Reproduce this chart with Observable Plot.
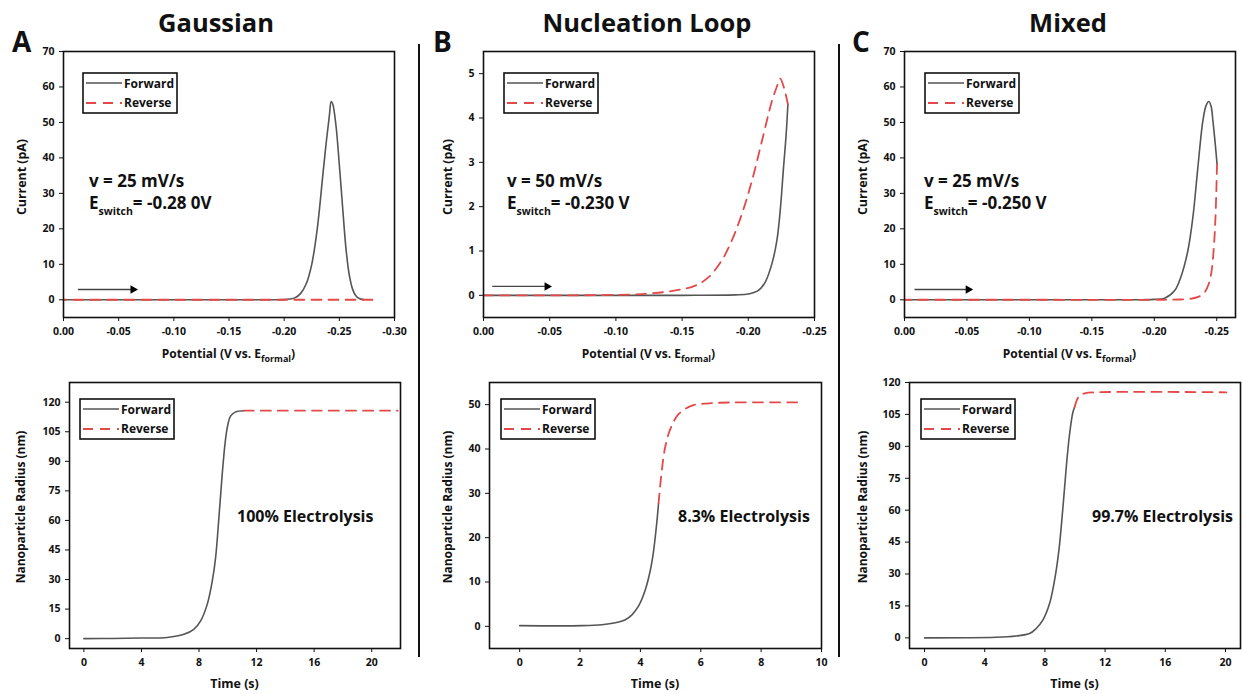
<!DOCTYPE html>
<html><head><meta charset="utf-8">
<script src="https://cdn.jsdelivr.net/npm/d3@7"></script>
<script src="https://cdn.jsdelivr.net/npm/@observablehq/plot@0.6"></script>
<style>
html,body{margin:0;padding:0;background:#fff;overflow:hidden;}
#fig{position:relative;width:1243px;height:694px;overflow:hidden;font-family:"Open Sans",sans-serif;font-weight:700;color:#111;background:#fff;}
.t{position:absolute;white-space:nowrap;line-height:1;}
.sep{position:absolute;background:#111;width:2px;}
</style></head>
<body><div id="fig"></div>
<script>
// ---------------- DATA ----------------
// Top row: cyclic voltammograms, [potential (V vs Eformal), current (pA)]
const gaussFwd = [[0,0],[-0.05,0],[-0.10,0],[-0.15,0],[-0.19,0],[-0.20,0.05],[-0.205,0.2],[-0.21,0.6],[-0.215,1.8],[-0.22,4.5],[-0.225,10],[-0.23,20],[-0.235,35],[-0.238,44],[-0.241,52],[-0.2426,55.9],[-0.244,55.2],[-0.247,49],[-0.25,38],[-0.253,26],[-0.256,14.5],[-0.259,7],[-0.262,3],[-0.265,1.1],[-0.268,0.35],[-0.272,0.05]];
const gaussRev = [[-0.28,0],[-0.20,0],[-0.10,0],[0,0]];
const nuclFwd = [[0,0],[-0.05,0],[-0.10,0],[-0.15,0],[-0.19,0.01],[-0.20,0.03],[-0.2077,0.11],[-0.2128,0.3],[-0.2178,0.71],[-0.2216,1.24],[-0.2241,1.91],[-0.2266,2.88],[-0.2286,3.63],[-0.2299,4.31]];
const nuclRev = [[-0.2299,4.31],[-0.227,4.68],[-0.2241,4.89],[-0.2215,4.7],[-0.2178,4.38],[-0.2103,3.48],[-0.2027,2.58],[-0.1952,1.84],[-0.1876,1.24],[-0.180,0.79],[-0.170,0.41],[-0.160,0.22],[-0.145,0.11],[-0.125,0.04],[-0.10,0.01],[-0.05,0],[0,0]];
const mixedFwd = [[0,0],[-0.05,0],[-0.10,0],[-0.15,0],[-0.19,0.02],[-0.20,0.1],[-0.2083,0.45],[-0.2163,2.6],[-0.2216,6.8],[-0.2269,13.9],[-0.2309,23.3],[-0.2349,37.4],[-0.2389,50.5],[-0.2415,54.8],[-0.2437,55.9],[-0.2455,54.5],[-0.2469,50.5],[-0.2488,43.9],[-0.2502,38.3]];
const mixedRev = [[-0.2502,38.3],[-0.2496,30],[-0.2487,21],[-0.2475,14],[-0.2458,8],[-0.2437,4.6],[-0.24,2.0],[-0.235,0.8],[-0.23,0.35],[-0.22,0.08],[-0.21,0.02],[-0.20,0],[-0.10,0],[0,0]];
// Bottom row: [time (s), nanoparticle radius (nm)]
const gaussRadFwd = [[0,0],[2,0.1],[3.94,0.3],[5.79,0.6],[6.95,2.2],[7.64,4.7],[8.11,9],[8.57,17.4],[8.92,29.2],[9.15,41],[9.38,61.3],[9.61,83.3],[9.80,98.5],[9.96,107],[10.19,112.9],[10.54,115.1],[11.12,115.7]];
const gaussRadRev = [[11.12,115.7],[16,115.7],[21.8,115.7]];
const nuclRadFwd = [[0,0.15],[2.07,0.15],[2.73,0.35],[3.17,0.8],[3.5,1.5],[3.72,2.6],[3.94,4.6],[4.16,8.2],[4.33,12.7],[4.44,17.2],[4.55,23.9],[4.6,27.7]];
const nuclRadRev = [[4.6,27.7],[4.71,35.2],[4.82,40.4],[4.99,44.5],[5.27,47.9],[5.71,49.8],[6.26,50.3],[7.03,50.5],[9.25,50.5]];
const mixedRadFwd = [[0,0],[4.76,0.3],[6.09,0.9],[6.98,2],[7.42,4.4],[7.86,8.3],[8.31,16.1],[8.64,27],[8.93,41.1],[9.2,61.5],[9.42,80.2],[9.64,95.8],[9.86,106],[9.97,108.4]];
const mixedRadRev = [[9.97,108.4],[10.13,111.8],[10.3,113.8],[10.64,114.9],[11.42,115.4],[20.06,115.4]];
// scan-direction arrows (data coordinates)
const arrowA = [{x1:-0.013, x2:-0.063, y:2.9}];
const arrowB = [{x1:-0.0066, x2:-0.048, y:0.2}];
const arrowC = [{x1:-0.008, x2:-0.051, y:2.9}];
// tick values
const ticksE30 = [0,-0.05,-0.10,-0.15,-0.20,-0.25,-0.30];
const ticksE25 = [0,-0.05,-0.10,-0.15,-0.20,-0.25];
const ticksI70 = [0,10,20,30,40,50,60,70];
const ticksI5 = [0,1,2,3,4,5];
const ticksT20 = [0,4,8,12,16,20];
const ticksT10 = [0,2,4,6,8,10];
const ticksR120 = [0,15,30,45,60,75,90,105,120];
const ticksR50 = [0,10,20,30,40,50];
// texts
const titles = ["Gaussian","Nucleation Loop","Mixed"];
const letters = ["A","B","C"];
const rates = ["v = 25 mV/s","v = 50 mV/s","v = 25 mV/s"];
const switches = ["-0.28 0V","-0.230 V","-0.250 V"];
const electrolysis = ["100% Electrolysis","8.3% Electrolysis","99.7% Electrolysis"];
const seriesNames = ["Forward","Reverse"];

// ---------------- STYLE ----------------
const FWD = "#555555", REV = "#e24a4a", DASH = "10,7";
const fig = document.getElementById("fig");

function text(html, x, baseline, size, opts = {}) {
  const d = document.createElement("div");
  d.className = "t";
  d.innerHTML = html;
  d.style.fontSize = size + "px";
  d.style.left = x + "px";
  d.style.top = (baseline - 0.888 * size) + "px";
  if (opts.center) d.style.transform = "translateX(-50%)";
  fig.appendChild(d);
  return d;
}
function vtext(str, cx, cy, size) {
  const d = document.createElement("div");
  d.className = "t";
  d.textContent = str;
  d.style.fontSize = size + "px";
  d.style.left = cx + "px";
  d.style.top = cy + "px";
  d.style.transform = "translate(-50%,-50%) rotate(-90deg)";
  fig.appendChild(d);
}
function legend(x, y) {
  const ns = "http://www.w3.org/2000/svg";
  const s = document.createElementNS(ns, "svg");
  s.setAttribute("width", 96); s.setAttribute("height", 42);
  s.style.position = "absolute"; s.style.left = (x - 1) + "px"; s.style.top = (y - 1) + "px";
  s.innerHTML = `<rect x="1" y="1" width="94" height="40" fill="#fff" stroke="#111" stroke-width="1.6"/>
    <line x1="4" x2="40" y1="11" y2="11" stroke="${FWD}" stroke-width="1.6"/>
    <line x1="4" x2="40" y1="31" y2="31" stroke="${REV}" stroke-width="1.8" stroke-dasharray="${DASH}"/>
    <text x="42" y="16.3" font-family="Open Sans" font-weight="700" font-size="12" fill="#111">${seriesNames[0]}</text>
    <text x="42" y="35.3" font-family="Open Sans" font-weight="700" font-size="12" fill="#111">${seriesNames[1]}</text>`;
  fig.appendChild(s);
}

function panel(o) {
  const [fx, fy, fw, fh] = o.frame;
  const mL = 50, mT = 10, mR = 10, mB = 30;
  const marks = [
    Plot.axisX({ticks: o.xTicks, tickFormat: o.xFmt, tickSize: 4, tickPadding: 6, label: null}),
    Plot.axisY({ticks: o.yTicks, tickFormat: d => String(d), tickSize: 4, tickPadding: 5, label: null}),
    Plot.line(o.fwd, {x: d => d[0], y: d => d[1], stroke: FWD, strokeWidth: 1.6, curve: "catmull-rom"}),
    Plot.line(o.rev, {x: d => d[0], y: d => d[1], stroke: REV, strokeWidth: 1.8, strokeDasharray: DASH, curve: "catmull-rom"}),
    Plot.frame({stroke: "#111", strokeWidth: 1.6})
  ];
  if (o.arrow) {
    marks.push(Plot.link(o.arrow, {x1: "x1", x2: "x2", y1: "y", y2: "y", stroke: "#444", strokeWidth: 1.3}));
    marks.push(Plot.dot(o.arrow, {x: "x2", y: "y", symbol: "triangle", rotate: 90, r: 3.2, fill: "#000", stroke: null}));
  }
  const svg = Plot.plot({
    width: fw + mL + mR, height: fh + mT + mB,
    marginLeft: mL, marginTop: mT, marginRight: mR, marginBottom: mB,
    style: "font-family:'Open Sans',sans-serif;font-size:10.5px;font-weight:700;background:transparent;overflow:visible;color:#111;",
    x: {domain: o.xDomain},
    y: {domain: o.yDomain},
    marks
  });
  svg.style.position = "absolute";
  svg.style.left = (fx - mL) + "px";
  svg.style.top = (fy - mT) + "px";
  fig.appendChild(svg);
}

const fmtE = d => d.toFixed(2);
const fmtN = d => String(d);

// frames [left, top, width, height]
const topFrames = [[63,51,331,266],[483,51,331,266],[904,51,331,266]];
const botFrames = [[69,382,331,266],[489,382,332,266],[909,382,331,266]];

panel({frame: topFrames[0], xDomain: [0,-0.30], xTicks: ticksE30, xFmt: fmtE, yDomain: [-5,70], yTicks: ticksI70, fwd: gaussFwd, rev: gaussRev, arrow: arrowA});
panel({frame: topFrames[1], xDomain: [0,-0.25], xTicks: ticksE25, xFmt: fmtE, yDomain: [-0.5,5.5], yTicks: ticksI5, fwd: nuclFwd, rev: nuclRev, arrow: arrowB});
panel({frame: topFrames[2], xDomain: [0,-0.265], xTicks: ticksE25, xFmt: fmtE, yDomain: [-5,70], yTicks: ticksI70, fwd: mixedFwd, rev: mixedRev, arrow: arrowC});
panel({frame: botFrames[0], xDomain: [-1,22], xTicks: ticksT20, xFmt: fmtN, yDomain: [-5,130], yTicks: ticksR120, fwd: gaussRadFwd, rev: gaussRadRev});
panel({frame: botFrames[1], xDomain: [-1,10], xTicks: ticksT10, xFmt: fmtN, yDomain: [-5,55], yTicks: ticksR50, fwd: nuclRadFwd, rev: nuclRadRev});
panel({frame: botFrames[2], xDomain: [-1,21], xTicks: ticksT20, xFmt: fmtN, yDomain: [-5,120], yTicks: ticksR120, fwd: mixedRadFwd, rev: mixedRadRev});

// separators
[[418,44,613],[838,44,613]].forEach(([x,y,h]) => {
  const d = document.createElement("div"); d.className = "sep";
  d.style.left = x + "px"; d.style.top = y + "px"; d.style.height = h + "px";
  fig.appendChild(d);
});

// titles & letters
const titleX = [216, 647, 1068];
const letterX = [12, 433, 852];
titles.forEach((t, i) => text(t, titleX[i], 33, 25.5, {center: true}));
letters.forEach((t, i) => text(t, letterX[i], 52, 28));

// annotations
const annX = [89, 507, 924];
rates.forEach((t, i) => text(t, annX[i], 187, 17));
switches.forEach((t, i) => text(`E<span style="font-size:10.5px;vertical-align:-6px">switch</span>= ${t}`, annX[i], 209, 17));
const elX = [237, 678, 1092];
electrolysis.forEach((t, i) => text(t, elX[i], 522, 16));

// axis labels
topFrames.forEach(([fx,fy,fw,fh]) => {
  text(`Potential (V vs. E<span style="font-size:9px;vertical-align:-4px">formal</span>)`, fx + fw/2, 359, 12, {center: true});
});
botFrames.forEach(([fx,fy,fw,fh]) => text("Time (s)", fx + fw/2, 689, 12.5, {center: true}));
[22, 448, 863].forEach(cx => vtext("Current (pA)", cx, 177, 12.4));
[21, 448, 863].forEach(cx => vtext("Nanoparticle Radius (nm)", cx, 507, 12));

// legends
[[83,73],[504,73],[925,73],[80,399],[501,399],[921,399]].forEach(([x,y]) => legend(x, y));
</script>
</body></html>
